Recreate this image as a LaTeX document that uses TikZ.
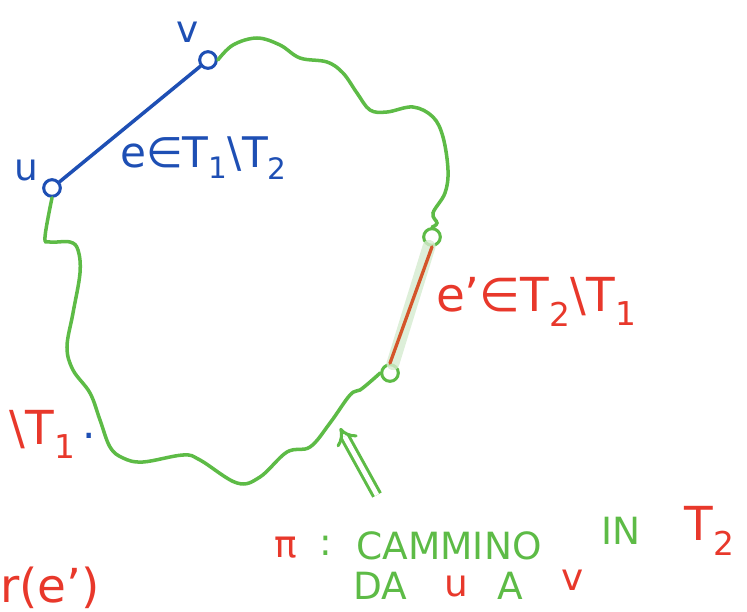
\documentclass[tikz,border=0pt]{standalone}
\usepackage{fontspec}
\setmainfont{DejaVu Sans}
\usepackage{xcolor}
\usepackage{tikz}
\usetikzlibrary{arrows.meta, positioning, calc}
\definecolor{penblue}{HTML}{1E4FB4}
\definecolor{pengreen}{HTML}{5DBB46}
\definecolor{penred}{HTML}{E8382B}
\definecolor{edgered}{HTML}{D4552A}
\definecolor{paleg}{HTML}{D5EBCF}
\tikzset{
  vert/.style={draw, circle, minimum size=0.5cm, inner sep=0pt, line width=2.6pt},
  treeedge/.style={penblue, line width=3pt, line cap=round},
  swapedge/.style={edgered, line width=2.8pt, line cap=round},
  glow/.style={paleg, line width=11pt, line cap=round, opacity=0.8},
  walk/.style={pengreen, line width=3pt, line cap=round},
  implies/.style={pengreen, double, double distance=4pt, line width=2.6pt, -{Implies[length=5mm]}},
  big/.style={font=\fontsize{36}{40}\selectfont},
  huge/.style={font=\fontsize{40}{44}\selectfont},
  mid/.style={font=\fontsize{32}{36}\selectfont}
}
\newcommand{\lo}[1]{\textsubscript{#1}}

\begin{document}
\begin{tikzpicture}[x=0.03cm, y=-0.03cm]
        \useasboundingbox (0,0) rectangle (747,612);

        % Vertices
        \node[vert, penblue]  (u) at (52,188) {};
        \node[vert, penblue]  (v) at (208,60) {};
        \node[vert, pengreen] (a) at (432,237) {};
        \node[vert, pengreen] (b) at (390,373) {};

        % Vertex labels
        \node[mid, penblue] (ulab) at (26,170) {u};
        \node[mid, penblue] (vlab) at (188,32) {v};

        % Edge e of T1
        \draw[treeedge] (u) -- (v);
        \node[big, penblue, anchor=west] (elab) at (116,158) {e∈T\lo{1}\textbackslash T\lo{2}};

        % Edge e' of T2
        \draw[glow] (a) -- (b);
        \draw[swapedge] (a.south) -- (b.north);
        \node[huge, penred, anchor=west] (eplab) at (432,302) {e'∈T\lo{2}\textbackslash T\lo{1}};

        % Path pi in T2 from u to v
        \draw[walk] plot[smooth, tension=0.6] coordinates {(v.east) (233,45) (257,38) (280,45) (300,58) (327,62) (343,73) (357,93) (370,110) (387,112) (413,107) (433,117) (443,137) (448,170) (445,193) (433,213) (437,223) (a.north)};
        \draw[walk] plot[smooth, tension=0.6] coordinates {(b.west) (370,382) (360,390) (350,395) (330,423) (310,447) (287,452) (260,477) (237,483) (200,460) (183,455) (143,462) (123,458) (110,447) (100,420) (90,393) (73,370) (67,347) (73,313) (80,273) (78,250) (70,242) (50,242) (45,237) (u.south)};

        % Pointer to the path
        \coordinate (tail) at (377,495);
        \coordinate (tip) at (340,428);
        \draw[implies] (tail) -- (tip);

        % Caption
        \node[mid, penred]   (pi)   at (286,548) {π};
        \node[mid, pengreen] (col)  at (326,546) {:};
        \node[mid, pengreen] (cam)  at (449,546) {CAMMINO};
        \node[mid, pengreen] (in)   at (621,531) {IN};
        \node[huge, penred]  (t2)   at (710,531) {T\lo{2}};
        \node[mid, pengreen] (da)   at (380,586) {DA};
        \node[mid, penred]   (uu)   at (456,586) {u};
        \node[mid, pengreen] (aa)   at (510,586) {A};
        \node[mid, penred]   (vv)   at (573,580) {v};

        % Cut-off notes on the left
        \node[huge, penred, anchor=east] (left1) at (80,434) {\textbackslash T\lo{1}};
        \node[big, penblue] (dot) at (89,436) {.};
        \node[huge, penred, anchor=east] (left2) at (104,588) {r(e')};
\end{tikzpicture}
\end{document}
